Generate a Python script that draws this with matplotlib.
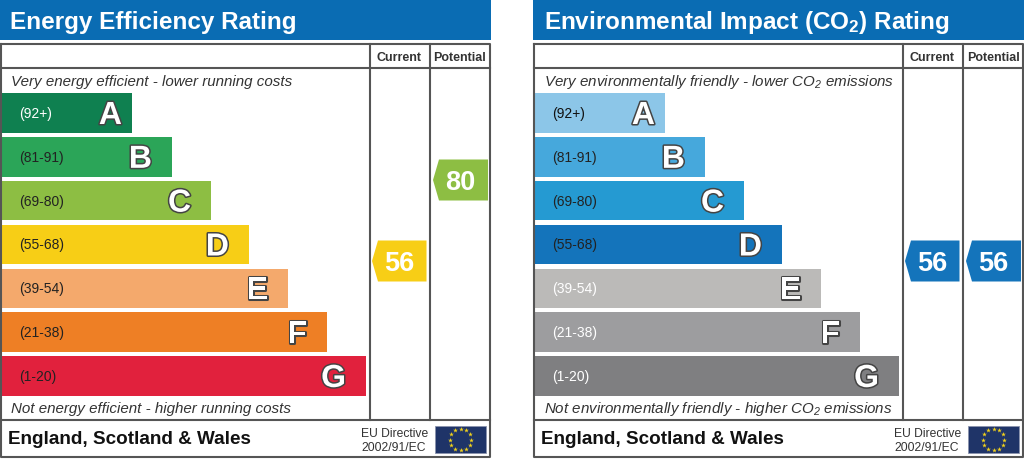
import numpy as np
import matplotlib
matplotlib.use('Agg')
import matplotlib.pyplot as plt
import matplotlib.patheffects as pe

plt.rcParams['font.family'] = ['Liberation Sans', 'DejaVu Sans']
plt.rcParams['mathtext.fontset'] = 'custom'
plt.rcParams['mathtext.rm'] = 'Liberation Sans'
plt.rcParams['mathtext.it'] = 'Liberation Sans:italic'
plt.rcParams['mathtext.bf'] = 'Liberation Sans:bold'
plt.rcParams['mathtext.default'] = 'regular'

bands = ['A', 'B', 'C', 'D', 'E', 'F', 'G']
ranges = ['(92+)', '(81-91)', '(69-80)', '(55-68)', '(39-54)', '(21-38)', '(1-20)']
bar_lengths = [131, 171, 210, 248, 287, 326, 365]

energy_colors = ['#0f8050', '#2ba558', '#8dbe43', '#f7ce16', '#f4a96c', '#ee7f25', '#e1213d']
energy_range_colors = ['white', '#222222', '#222222', '#222222', '#222222', '#222222', '#222222']
energy_current = 56
energy_potential = 80

co2_colors = ['#8cc6e8', '#46a8dc', '#259ad2', '#1474bb', '#bbbab8', '#9d9d9f', '#7f7f81']
co2_range_colors = ['#111111', '#222222', '#222222', '#222222', 'white', 'white', 'white']
co2_current = 56
co2_potential = 56

BLUE = '#0a6cb3'
LINE = '#555555'


def score_y(score):
    # arrows sit on a straight score scale
    return 181 + (80 - score) * 3.375


def score_color(score, colors):
    limits = [92, 81, 69, 55, 39, 21, 1]
    for limit, color in zip(limits, colors):
        if score >= limit:
            return color
    return colors[-1]


def draw_arrow(ax, x0, x1, score, colors):
    y = score_y(score)
    xs = [x0, x0 + 6, x1, x1, x0 + 6]
    ys = [y, y - 20.5, y - 20.5, y + 20.5, y + 20.5]
    ax.fill(xs, ys, color=score_color(score, colors), lw=0, zorder=3)
    ax.text((x0 + x1) / 2, y + 2, str(score), color='white', fontsize=19.5,
            fontweight='bold', ha='center', va='center', zorder=4)


def draw_flag(ax, x0):
    ax.add_patch(plt.Rectangle((x0, 427), 51, 27, fc='#1f3468', ec='#8a93ad', lw=0.6, zorder=3))
    angles = np.arange(12) * np.pi / 6
    ax.scatter(x0 + 25.5 + 10.5 * np.cos(angles), 440.5 + 10.5 * np.sin(angles), marker='*',
               s=13, color='#f2d21b', lw=0, zorder=4)


def draw_panel(ax, x0, title, top_text, bottom_text, colors, range_colors, current, potential):
    ax.add_patch(plt.Rectangle((x0, 0), 491, 41, fc=BLUE, ec='none'))
    ax.text(x0 + 10.5, 22, title, color='white', fontsize=17.45, fontweight='bold',
            va='center', ha='left')

    # frame and column rules
    ax.plot([x0 + 1, x0 + 490, x0 + 490, x0 + 1, x0 + 1], [45, 45, 458, 458, 45], color=LINE, lw=1.5, zorder=5)
    ax.plot([x0 + 1, x0 + 490], [69, 69], color=LINE, lw=1.5, zorder=5)
    ax.plot([x0 + 1, x0 + 490], [421, 421], color=LINE, lw=1.5, zorder=5)
    ax.plot([x0 + 370, x0 + 370], [45, 421], color=LINE, lw=1.5, zorder=5)
    ax.plot([x0 + 430, x0 + 430], [45, 421], color=LINE, lw=1.5, zorder=5)

    ax.text(x0 + 399, 58, 'Current', fontsize=9, fontweight='bold', color='#333333', ha='center', va='center')
    ax.text(x0 + 460, 58, 'Potential', fontsize=9, fontweight='bold', color='#333333', ha='center', va='center')

    ax.text(x0 + 11, 82, top_text, fontsize=10.9, style='italic', color='#333333', va='center')
    ax.text(x0 + 11, 409, bottom_text, fontsize=10.9, style='italic', color='#333333', va='center')

    y_pos = 114 + np.arange(len(bands)) * 43.83
    ax.barh(y_pos, bar_lengths, height=39.5, left=x0 + 1, color=colors, lw=0, zorder=2)
    outline = [pe.withStroke(linewidth=2.2, foreground='#444444')]
    for y, length, band, rng, rc in zip(y_pos, bar_lengths, bands, ranges, range_colors):
        ax.text(x0 + 19, y, rng, fontsize=10, color=rc, va='center', zorder=3)
        # the A bar is too short for the usual margin
        margin = 9 if band == 'A' else 19
        ax.text(x0 + length - margin, y + 3, band, fontsize=23, fontweight='bold', color='white',
                ha='right', va='center', path_effects=outline, zorder=3)

    draw_arrow(ax, x0 + 372, x0 + 426.5, current, colors)
    draw_arrow(ax, x0 + 433, x0 + 488, potential, colors)

    ax.text(x0 + 8, 440, 'England, Scotland & Wales', fontsize=13.55, fontweight='bold', color='#111111', va='center')
    ax.text(x0 + 361, 434.5, 'EU Directive', fontsize=8.75, color='#333333', va='center')
    ax.text(x0 + 361, 448, '2002/91/EC', fontsize=8.75, color='#333333', va='center')
    draw_flag(ax, x0 + 435)


fig = plt.figure(figsize=(10.24, 4.6), dpi=100, facecolor='white')
ax = fig.add_axes([0, 0, 1, 1])
ax.set_xlim(0, 1024)
ax.set_ylim(460, 0)
ax.axis('off')

draw_panel(ax, 0, 'Energy Efficiency Rating',
           'Very energy efficient - lower running costs',
           'Not energy efficient - higher running costs',
           energy_colors, energy_range_colors, energy_current, energy_potential)
draw_panel(ax, 533, 'Environmental Impact (CO$_2$) Rating',
           'Very environmentally friendly - lower CO$_2$ emissions',
           'Not environmentally friendly - higher CO$_2$ emissions',
           co2_colors, co2_range_colors, co2_current, co2_potential)

fig.savefig('out.png', dpi=100)
